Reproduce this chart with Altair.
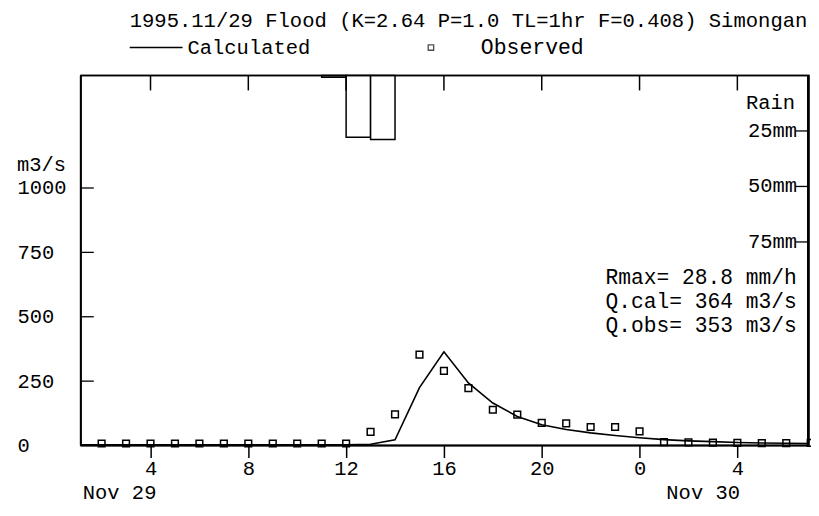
import altair as alt
import pandas as pd

FONT = "Liberation Mono"

# ---- data ----
obs_hours = list(range(2, 32))
obs_values = [8, 8, 8, 8, 8, 8, 8, 8, 8, 8, 8,
              53, 121, 353, 290, 223, 139, 120, 88, 86, 72, 72, 55,
              13, 12, 11, 10, 9, 9, 10]

calc_hours = list(range(1, 32))
calc_values = [3, 3, 3, 3, 3, 3, 3, 3, 3, 3, 3, 3,
               5, 22, 225, 364, 243, 165, 113, 81, 62, 49, 39, 30,
               23, 18, 15, 12, 10, 9, 8]

rain_start = [11, 12, 13]
rain_end = [12, 13, 14]
rain_mm = [0.8, 27.8, 28.8]

flow_ticks = [0, 250, 500, 750, 1000]
hour_ticks = [4, 8, 12, 16, 20, 24, 28]
rain_ticks = [25, 50, 75]
rain_labels = ["25mm", "50mm", "75mm"]

title_text = "1995.11/29 Flood (K=2.64 P=1.0 TL=1hr F=0.408) Simongan"
legend_calc = "Calculated"
legend_obs = "Observed"
flow_unit = "m3/s"
rain_title = "Rain"
stats_lines = ["Rmax= 28.8 mm/h", "Q.cal= 364 m3/s", "Q.obs= 353 m3/s"]
date_labels = ["Nov 29", "Nov 30"]

# ---- scales ----
W, H = 730, 371
xscale = alt.Scale(domain=[1.15, 30.93], nice=False, zero=False)
yscale = alt.Scale(domain=[0, 1437], nice=False, zero=False)
rscale = alt.Scale(domain=[0, 166.7], nice=False, zero=False, reverse=True)

obs_df = pd.DataFrame({"h": obs_hours, "q": obs_values})
calc_df = pd.DataFrame({"h": calc_hours, "q": calc_values})
rain_df = pd.DataFrame({"h0": rain_start, "h1": rain_end, "mm": rain_mm})

line = alt.Chart(calc_df).mark_line(color="black", strokeWidth=1.6, clip=True).encode(
    x=alt.X("h:Q", scale=xscale,
            axis=alt.Axis(values=hour_ticks, labelExpr="'' + (datum.value % 24)",
                          grid=False, domain=False, tickSize=12, tickWidth=1.5,
                          tickColor="black", labelFont=FONT, labelFontSize=20.5,
                          labelColor="black", labelPadding=1, labelFlush=False,
                          title=None)),
    y=alt.Y("q:Q", scale=yscale,
            axis=alt.Axis(values=flow_ticks, format="d", ticks=False, domain=False, grid=False,
                          labelAlign="left", labelPadding=64, labelFont=FONT,
                          labelFontSize=20.5, labelColor="black", labelBaseline="middle",
                          title=None)),
)

pts = alt.Chart(obs_df).mark_point(shape="square", filled=False, color="black",
                                   size=45, strokeWidth=1.5, opacity=1).encode(
    x=alt.X("h:Q", scale=xscale),
    y=alt.Y("q:Q", scale=yscale, axis=None),
)

bars = alt.Chart(rain_df).mark_rect(fill="white", stroke="black", strokeWidth=1.5).encode(
    x=alt.X("h0:Q", scale=xscale),
    x2="h1:Q",
    y=alt.Y("mm:Q", scale=rscale, axis=None),
    y2=alt.datum(0),
)

left_ticks = alt.Chart(pd.DataFrame({"q": flow_ticks[1:]})).mark_rule(
    color="black", strokeWidth=1.3).encode(
    y=alt.Y("q:Q", scale=yscale, axis=None),
    x=alt.value(0), x2=alt.value(13),
)

top_ticks = alt.Chart(pd.DataFrame({"h": hour_ticks})).mark_rule(
    color="black", strokeWidth=1.5).encode(
    x=alt.X("h:Q", scale=xscale),
    y=alt.value(0), y2=alt.value(15),
)

rain_tick_df = pd.DataFrame({"mm": rain_ticks, "lab": rain_labels})
right_ticks = alt.Chart(rain_tick_df).mark_rule(color="black", strokeWidth=1.3).encode(
    y=alt.Y("mm:Q", scale=rscale, axis=None),
    x=alt.value(W - 13), x2=alt.value(W),
)
right_labels = alt.Chart(rain_tick_df).mark_text(
    align="right", baseline="middle", font=FONT, fontSize=20.5, color="black").encode(
    y=alt.Y("mm:Q", scale=rscale, axis=None),
    x=alt.value(W - 12),
    text="lab:N",
)


def txt(s, x, y, align="left", size=20.5):
    return alt.Chart(alt.Data(values=[{"t": s}])).mark_text(
        align=align, baseline="middle", font=FONT, fontSize=size, color="black"
    ).encode(x=alt.value(x), y=alt.value(y), text="t:N")


texts = [
    txt(title_text, 49, -55, size=20.6),
    txt(legend_calc, 107, -28),
    txt(legend_obs, 401, -28, size=21.5),
    txt(flow_unit, -64, 90),
    txt(rain_title, 716, 28, align="right"),
    txt(stats_lines[0], 526, 203, size=21.3),
    txt(stats_lines[1], 526, 227, size=21.3),
    txt(stats_lines[2], 526, 251, size=21.3),
    txt(date_labels[0], 2, 419),
    txt(date_labels[1], 587, 419),
]

leg_line = alt.Chart(alt.Data(values=[{"a": 1}])).mark_rule(color="black", strokeWidth=1.6).encode(
    x=alt.value(49), x2=alt.value(102), y=alt.value(-28))
leg_pt = alt.Chart(alt.Data(values=[{"a": 1}])).mark_point(
    shape="square", filled=False, color="black", size=30, strokeWidth=1.3).encode(
    x=alt.value(351), y=alt.value(-28))

one = alt.Data(values=[{"a": 1}])
frame_left = alt.Chart(one).mark_rule(color="black", strokeWidth=2).encode(
    x=alt.value(0), y=alt.value(0), y2=alt.value(H))
frame_right = alt.Chart(one).mark_rule(color="black", strokeWidth=2).encode(
    x=alt.value(W - 1), y=alt.value(0), y2=alt.value(H))
frame_top = alt.Chart(one).mark_rule(color="black", strokeWidth=1.6).encode(
    y=alt.value(0), x=alt.value(0), x2=alt.value(W))
frame_bottom = alt.Chart(one).mark_rule(color="black", strokeWidth=2).encode(
    y=alt.value(H), x=alt.value(0), x2=alt.value(W))

chart = alt.layer(
    bars, line, pts, left_ticks, top_ticks, right_ticks, right_labels,
    leg_line, leg_pt, frame_left, frame_right, frame_top, frame_bottom, *texts
).resolve_scale(y="independent").properties(
    width=W, height=H,
    padding={"left": 73, "top": 67, "right": 2, "bottom": 62},
    autosize=alt.AutoSizeParams(type="none"),
    background="white",
).configure_view(stroke="black", strokeWidth=1.6)

chart.save("out.html", embed_options={"renderer": "svg", "actions": False})
